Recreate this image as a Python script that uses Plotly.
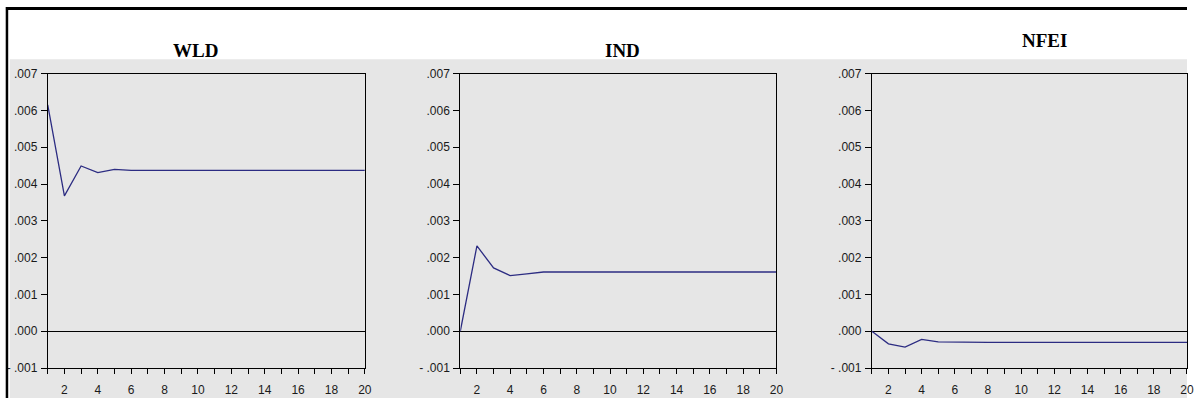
import plotly.graph_objects as go

# ---- data ----
periods = list(range(1, 21))
wld = [0.00615, 0.00368, 0.00449, 0.00431, 0.00440, 0.00437, 0.00437, 0.00437, 0.00437, 0.00437,
       0.00437, 0.00437, 0.00437, 0.00437, 0.00437, 0.00437, 0.00437, 0.00437, 0.00437, 0.00437]
ind = [0.00000, 0.00232, 0.00172, 0.00151, 0.00156, 0.00161, 0.00161, 0.00161, 0.00161, 0.00161,
       0.00161, 0.00161, 0.00161, 0.00161, 0.00161, 0.00161, 0.00161, 0.00161, 0.00161, 0.00161]
nfei = [0.00000, -0.00034, -0.00043, -0.00022, -0.00029, -0.00030, -0.00030, -0.00030, -0.00030, -0.00030,
        -0.00030, -0.00030, -0.00030, -0.00030, -0.00030, -0.00030, -0.00030, -0.00030, -0.00030, -0.00030]
titles = ["WLD", "IND", "NFEI"]
series = [wld, ind, nfei]
y_tickvals = [-0.001, 0.0, 0.001, 0.002, 0.003, 0.004, 0.005, 0.006, 0.007]
y_ticktext = ["- .001", ".000", ".001", ".002", ".003", ".004", ".005", ".006", ".007"]
x_tickvals = periods
x_ticktext = [str(p) if p % 2 == 0 else "" for p in periods]

# ---- layout geometry (pixels) ----
W, H = 1194, 405
panel_x = [(48, 367), (463, 781), (877, 1194)]
panel_y = (69, 374)
title_pos = [(197, 45), (626, 45), (1051, 35)]
GRAY = "#e6e6e6"
LINE = "#2c2c82"

fig = go.Figure()
layout = dict(
    width=W, height=H, margin=dict(l=0, r=0, t=0, b=0),
    paper_bgcolor="white", plot_bgcolor=GRAY, showlegend=False,
    font=dict(family="Liberation Sans, Arial, sans-serif", size=12, color="#1a1a1a"),
)
annotations = []
for i, (name, vals) in enumerate(zip(titles, series)):
    sfx = "" if i == 0 else str(i + 1)
    fig.add_trace(go.Scatter(x=periods, y=vals, mode="lines",
                             line=dict(color=LINE, width=1.3),
                             xaxis="x" + sfx, yaxis="y" + sfx, hoverinfo="skip"))
    x0, x1 = panel_x[i]
    layout["xaxis" + sfx] = dict(
        domain=[x0 / W, x1 / W], anchor="y" + sfx, range=[1, 20],
        tickmode="array", tickvals=x_tickvals, ticktext=x_ticktext,
        ticks="outside", ticklen=5, tickwidth=1, tickcolor="black",
        showline=True, linecolor="black", linewidth=1, mirror=True,
        showgrid=False, zeroline=False, ticklabelstandoff=6,
        tickfont=dict(size=12), fixedrange=True,
    )
    layout["yaxis" + sfx] = dict(
        domain=[1 - panel_y[1] / H, 1 - panel_y[0] / H], anchor="x" + sfx,
        range=[-0.001, 0.007],
        tickmode="array", tickvals=y_tickvals, ticktext=y_ticktext,
        ticks="outside", ticklen=6, tickwidth=1, tickcolor="black",
        showline=True, linecolor="black", linewidth=1, mirror=True,
        showgrid=False, zeroline=True, zerolinecolor="black", zerolinewidth=1.2,
        ticklabelstandoff=1, tickfont=dict(size=12), fixedrange=True,
    )
    tx, ty = title_pos[i]
    annotations.append(dict(
        x=tx / W, y=1 - ty / H, xref="paper", yref="paper", text="<b>%s</b>" % name,
        showarrow=False, xanchor="center", yanchor="middle",
        font=dict(family="Liberation Serif, Times New Roman, serif", size=19, color="black"),
    ))

shapes = [
    dict(type="rect", xref="paper", yref="paper", x0=10 / W, x1=1, y0=0, y1=1 - 54 / H,
         fillcolor=GRAY, line=dict(width=0), layer="below"),
    dict(type="line", xref="paper", yref="paper", x0=7 / W, x1=7 / W, y0=0, y1=1,
         line=dict(color="black", width=2.5)),
    dict(type="line", xref="paper", yref="paper", x0=6 / W, x1=1, y0=1 - 1.5 / H, y1=1 - 1.5 / H,
         line=dict(color="black", width=3)),
]
layout["annotations"] = annotations
layout["shapes"] = shapes
fig.update_layout(**layout)
fig.write_html(
    "out.html",
    config={"displayModeBar": False, "responsive": False},
    post_script="document.body.style.margin='0';document.body.style.overflow='hidden';",
)
